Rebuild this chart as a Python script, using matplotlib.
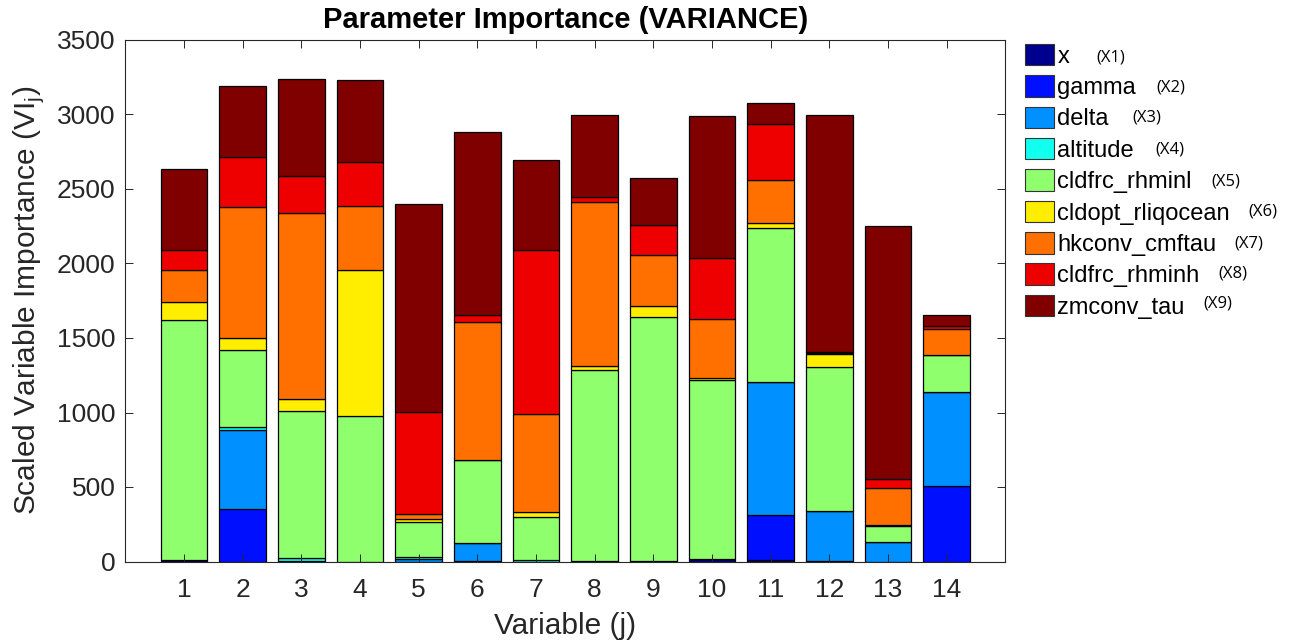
import numpy as np
import matplotlib
matplotlib.use('Agg')
import matplotlib.pyplot as plt
from matplotlib.patches import Patch

plt.rcParams.update({'font.family': ['Liberation Sans', 'DejaVu Sans']})

variables = np.arange(1, 15)
param_names = ['x', 'gamma', 'delta', 'altitude', 'cldfrc_rhminl', 'cldopt_rliqocean',
               'hkconv_cmftau', 'cldfrc_rhminh', 'zmconv_tau']
param_tags = ['(X1)', '(X2)', '(X3)', '(X4)', '(X5)', '(X6)', '(X7)', '(X8)', '(X9)']

# one row per parameter, one column per variable (stack order bottom -> top)
vi_x        = [12,    0,    3,    0,    0,    5,    0,    5,    5,   15,    8,    5,    0,    0]
vi_gamma    = [0,   353,    0,    0,    0,    0,    0,    0,    0,    0,  307,    0,    0,  505]
vi_delta    = [0,   532,    0,    0,   20,  116,    0,    0,    0,    0,  887,  337,  132,  630]
vi_altitude = [0,    15,   20,    0,   12,    0,   13,    0,    0,    0,    0,    0,    0,    0]
vi_rhminl   = [1611, 521,  989,  979,  236,  563,  287, 1282, 1638, 1205, 1033,  964,  109,  253]
vi_rliq     = [116,   79,   81,  979,   18,    0,   33,   23,   71,   10,   40,   89,    5,    0]
vi_cmftau   = [217,  876, 1245,  431,   34,  921,  659, 1104,  346,  399,  288,    5,  248,  174]
vi_rhminh   = [134,  342,  252,  295,  681,   50, 1100,   29,  200,  409,  372,    8,   61,   16]
vi_zmtau    = [545,  475,  645,  546, 1401, 1225,  603,  556,  317,  950,  140, 1587, 1700,   78]

series = [vi_x, vi_gamma, vi_delta, vi_altitude, vi_rhminl, vi_rliq, vi_cmftau, vi_rhminh, vi_zmtau]
colors = ['#00008F', '#0010FF', '#0090FF', '#10FFEF', '#90FF6E', '#FFEE00', '#FF7000', '#EE0000', '#800000']

fig = plt.figure(figsize=(12.91, 6.43), dpi=100)
ax = fig.add_axes([125.3 / 1291, 1 - 561.5 / 643, 880 / 1291, 521.5 / 643])

bottom = np.zeros(len(variables))
for vals, c in zip(series, colors):
    vals = np.array(vals, dtype=float)
    ax.bar(variables, vals, width=0.8, bottom=bottom, color=c, edgecolor='black', linewidth=0.9)
    bottom += vals

ax.set_xlim(0, 15)
ax.set_ylim(0, 3500)
ax.set_xticks(variables)
ax.set_yticks(np.arange(0, 3501, 500))
ax.tick_params(direction='in', length=6, width=0.7, color='#262626', labelcolor='#262626',
               labelsize=19, top=True, right=True)
ax.tick_params(axis='x', pad=12)
ax.tick_params(axis='y', pad=7)
for s in ax.spines.values():
    s.set_color('#262626')
    s.set_linewidth(0.8)

ax.set_title('Parameter Importance (VARIANCE)', fontsize=21, fontweight='bold', pad=9)
ax.set_xlabel('Variable (j)', fontsize=21.5, color='#262626', labelpad=7)
ax.set_ylabel('Scaled Variable Importance (VI$_\\mathregular{j}$)', fontsize=21.5, color='#262626', labelpad=8)

handles = [Patch(facecolor=c, edgecolor='#333333', linewidth=0.8) for c in colors]
fig.legend(handles, param_names, loc='upper left', bbox_to_anchor=(1025 / 1291, 1 - 44 / 643),
           bbox_transform=fig.transFigure, frameon=False, fontsize=17, handlelength=1.24,
           handleheight=1.02, handletextpad=0.13, labelspacing=0.32, borderpad=0, borderaxespad=0)

tag_pos = [(1096, 58), (1156, 88), (1132, 118), (1155, 150), (1211, 181),
           (1248, 212), (1234, 243), (1218, 274), (1203, 304)]
for tag, (px, py) in zip(param_tags, tag_pos):
    fig.text(px / 1291, 1 - py / 643, tag, fontsize=12, family='Open Sans', va='center', ha='left')

fig.savefig('out.png', dpi=100)
